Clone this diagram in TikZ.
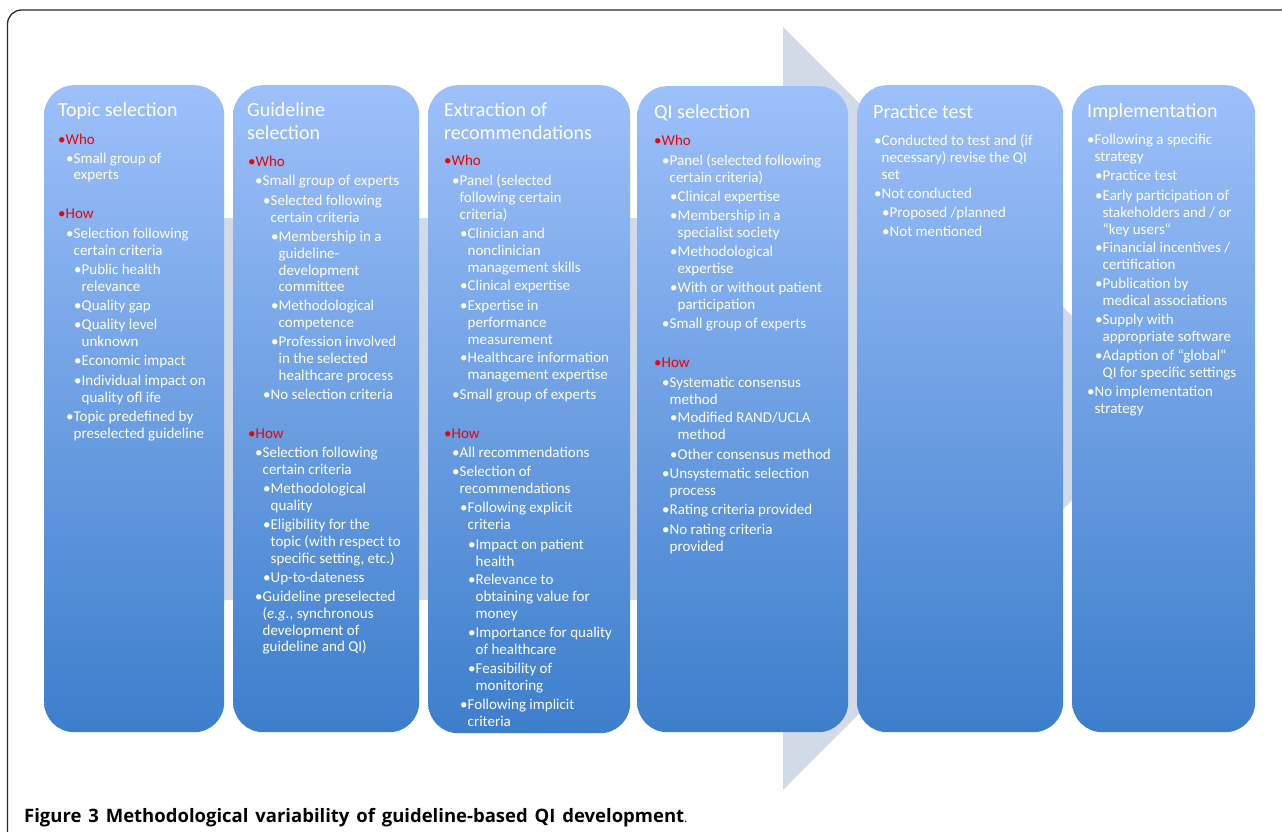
\documentclass[tikz,border=0pt]{standalone}
\usepackage{fontspec}
\setmainfont{Carlito}
\newfontfamily\capfont{Open Sans}
\definecolor{boxtop}{RGB}{157,192,250}
\definecolor{boxbot}{RGB}{61,126,203}
\definecolor{arrowgrey}{RGB}{210,218,232}
\definecolor{hdred}{RGB}{240,0,0}
\definecolor{framec}{RGB}{40,40,40}
\tikzset{
 col/.style={anchor=north west, inner sep=0pt, rounded corners=30pt, top color=boxtop, bottom color=boxbot, draw=none},
 ttl/.style={anchor=base west, inner sep=0pt, text=white, font=\fontsize{20}{23}\selectfont},
 itm/.style={anchor=base west, inner sep=0pt, text=white, font=\fontsize{15}{16.8}\selectfont},
 hd/.style={itm, text=hdred},
}
\newcommand\nl{\\\phantom{•}}
\newcommand\ml[1]{\begin{tabular}[t]{@{}l@{}}#1\end{tabular}}
\begin{document}
\begin{tikzpicture}[x=1pt,y=-1pt]
\useasboundingbox (0,0) rectangle (1282,832);
% frame
\draw[framec, line width=1.3pt, rounded corners=14pt] (7.5,832) -- (7.5,10) -- (1282,10);
% background arrow
\fill[arrowgrey] (60,218) -- (783,218) -- (783,27) -- (1164,408) -- (783,790) -- (783,600) -- (60,600) -- cycle;
% columns
\node[col, minimum width=180pt, minimum height=647pt] (col1) at (44,85) {};
\node[col, minimum width=186pt, minimum height=647pt] (col2) at (233,85) {};
\node[col, minimum width=202pt, minimum height=648pt] (col3) at (428,85) {};
\node[col, minimum width=211pt, minimum height=646pt] (col4) at (637,86) {};
\node[col, minimum width=206pt, minimum height=647pt] (col5) at (857,85) {};
\node[col, minimum width=183pt, minimum height=647pt] (col6) at (1072,85) {};

% column 1
\node[ttl] (c1t) at (58,117) {Topic selection};
\node[hd] (c1w) at (58,144.5) {•Who};
\node[itm] (c1a) at (66,163) {\ml{•Small group of\nl experts}};
\node[hd] (c1h) at (58,218.5) {•How};
\node[itm] (c1b) at (66,238.5) {\ml{•Selection following\nl certain criteria}};
\node[itm] (c1c) at (74,274.5) {\ml{•Public health\nl relevance}};
\node[itm] (c1d) at (74,310.5) {•Quality gap};
\node[itm] (c1e) at (74,329.5) {\ml{•Quality level\nl unknown}};
\node[itm] (c1f) at (74,365.5) {•Economic impact};
\node[itm] (c1g) at (74,385.5) {\ml{•Individual impact on\nl quality ofl ife}};
\node[itm] (c1i) at (66,421.5) {\ml{•Topic predefined by\nl preselected guideline}};

% column 2
\node[ttl] (c2t) at (247,117) {\ml{Guideline\\selection}};
\node[hd] (c2w) at (248,166.5) {•Who};
\node[itm] (c2a) at (255,185.5) {•Small group of experts};
\node[itm] (c2b) at (263,205.5) {\ml{•Selected following\nl certain criteria}};
\node[itm] (c2c) at (271,241.5) {\ml{•Membership in a\nl guideline-\nl development\nl committee}};
\node[itm] (c2d) at (271,310.5) {\ml{•Methodological\nl competence}};
\node[itm] (c2e) at (271,346.5) {\ml{•Profession involved\nl in the selected\nl healthcare process}};
\node[itm] (c2f) at (263,399.5) {•No selection criteria};
\node[hd] (c2h) at (248,438.5) {•How};
\node[itm] (c2g) at (255,457.5) {\ml{•Selection following\nl certain criteria}};
\node[itm] (c2i) at (263,493.5) {\ml{•Methodological\nl quality}};
\node[itm] (c2j) at (263,529.5) {\ml{•Eligibility for the\nl topic (with respect to\nl specific setting, etc.)}};
\node[itm] (c2k) at (263,582.5) {•Up-to-dateness};
\node[itm] (c2l) at (255,601.5) {\ml{•Guideline preselected\nl (\textit{e.g.}, synchronous\nl development of\nl guideline and QI)}};

% column 3
\node[ttl] (c3t) at (444,117) {\ml{Extraction of\\recommendations}};
\node[hd] (c3w) at (444,165.5) {•Who};
\node[itm] (c3a) at (452,185.5) {\ml{•Panel (selected\nl following certain\nl criteria)}};
\node[itm] (c3b) at (460,238.5) {\ml{•Clinician and\nl nonclinician\nl management skills}};
\node[itm] (c3c) at (460,290.5) {•Clinical expertise};
\node[itm] (c3d) at (460,310.5) {\ml{•Expertise in\nl performance\nl measurement}};
\node[itm] (c3e) at (460,362.5) {\ml{•Healthcare information\nl management expertise}};
\node[itm] (c3f) at (452,399.5) {•Small group of experts};
\node[hd] (c3h) at (444,438.5) {•How};
\node[itm] (c3g) at (452,457.5) {•All recommendations};
\node[itm] (c3i) at (452,476.5) {\ml{•Selection of\nl recommendations}};
\node[itm] (c3j) at (460,512.5) {\ml{•Following explicit\nl criteria}};
\node[itm] (c3k) at (468,549.5) {\ml{•Impact on patient\nl health}};
\node[itm] (c3l) at (468,584.5) {\ml{•Relevance to\nl obtaining value for\nl money}};
\node[itm] (c3m) at (468,637.5) {\ml{•Importance for quality\nl of healthcare}};
\node[itm] (c3n) at (468,673.5) {\ml{•Feasibility of\nl monitoring}};
\node[itm] (c3o) at (460,709.5) {\ml{•Following implicit\nl criteria}};

% column 4
\node[ttl] (c4t) at (654,119) {QI selection};
\node[hd] (c4w) at (654,145.5) {•Who};
\node[itm] (c4a) at (662,165.5) {\ml{•Panel (selected following\nl certain criteria)}};
\node[itm] (c4b) at (670,201.5) {•Clinical expertise};
\node[itm] (c4c) at (670,220.5) {\ml{•Membership in a\nl specialist society}};
\node[itm] (c4d) at (670,256.5) {\ml{•Methodological\nl expertise}};
\node[itm] (c4e) at (670,292.5) {\ml{•With or without patient\nl participation}};
\node[itm] (c4f) at (662,328.5) {•Small group of experts};
\node[hd] (c4h) at (654,367.5) {•How};
\node[itm] (c4g) at (662,387.5) {\ml{•Systematic consensus\nl method}};
\node[itm] (c4i) at (670,422.5) {\ml{•Modified RAND/UCLA\nl method}};
\node[itm] (c4j) at (670,459.5) {•Other consensus method};
\node[itm] (c4k) at (662,478.5) {\ml{•Unsystematic selection\nl process}};
\node[itm] (c4l) at (662,514.5) {•Rating criteria provided};
\node[itm] (c4m) at (662,534.5) {\ml{•No rating criteria\nl provided}};

% column 5
\node[ttl] (c5t) at (873,119) {Practice test};
\node[itm] (c5a) at (874,145.5) {\ml{•Conducted to test and (if\nl necessary) revise the QI\nl set}};
\node[itm] (c5b) at (874,198.5) {•Not conducted};
\node[itm] (c5c) at (882,217.5) {•Proposed /planned};
\node[itm] (c5d) at (882,236.5) {•Not mentioned};

% column 6
\node[ttl] (c6t) at (1087,118) {Implementation};
\node[itm] (c6a) at (1087,144.5) {\ml{•Following a specific\nl strategy}};
\node[itm] (c6b) at (1095,180.5) {•Practice test};
\node[itm] (c6c) at (1095,200.5) {\ml{•Early participation of\nl stakeholders and / or\nl “key users“}};
\node[itm] (c6d) at (1095,252.5) {\ml{•Financial incentives /\nl certification}};
\node[itm] (c6e) at (1095,288.5) {\ml{•Publication by\nl medical associations}};
\node[itm] (c6f) at (1095,324.5) {\ml{•Supply with\nl appropriate software}};
\node[itm] (c6g) at (1095,360.5) {\ml{•Adaption of “global“\nl QI for specific settings}};
\node[itm] (c6i) at (1087,396.5) {\ml{•No implementation\nl strategy}};

% caption
\node[anchor=base west, inner sep=0pt, text=black, font=\capfont\bfseries\fontsize{18.5}{21}\selectfont] (cap) at (24,822) {\makebox[660pt][s]{Figure 3 Methodological variability of guideline-based QI development}{\mdseries\fontsize{12}{14}\selectfont.}};
\end{tikzpicture}
\end{document}
